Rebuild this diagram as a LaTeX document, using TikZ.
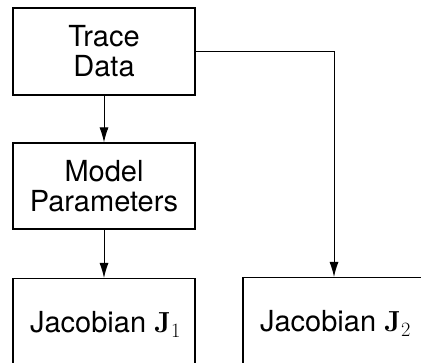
\RequirePackage{fix-cm}
\documentclass[tikz,border=0pt]{standalone}
\usepackage[no-math]{fontspec}
\setmainfont{TeX Gyre Heros}
\usetikzlibrary{arrows.meta}
\tikzset{
  block/.style={draw, line width=1.1pt, minimum width=182pt, inner sep=0pt,
    align=center, font=\fontsize{29}{30}\selectfont},
  flow/.style={line width=1pt, -{Latex[length=15pt,width=9pt]}}
}
\begin{document}
\begin{tikzpicture}[x=1pt,y=-1pt]
  \useasboundingbox (0,0) rectangle (421,363);
  \clip (0,0) rectangle (421,363);
  \node[block, minimum height=87pt] (trace) at (104,51.5) {Trace\\Data};
  \node[block, minimum height=86pt] (model) at (104,186) {Model\\Parameters};
  \node[block, minimum height=92pt, anchor=north] (j1) at (104,278) {\hspace{3pt}Jacobian $\mathbf{J}_1$};
  \node[block, minimum height=92pt, anchor=north] (j2) at (334,277) {\hspace{3pt}Jacobian $\mathbf{J}_2$};
  \draw[flow] (trace) -- (model);
  \draw[flow] (model) -- (j1);
  \draw[flow] (trace.east) -| (j2.north);
\end{tikzpicture}
\end{document}
